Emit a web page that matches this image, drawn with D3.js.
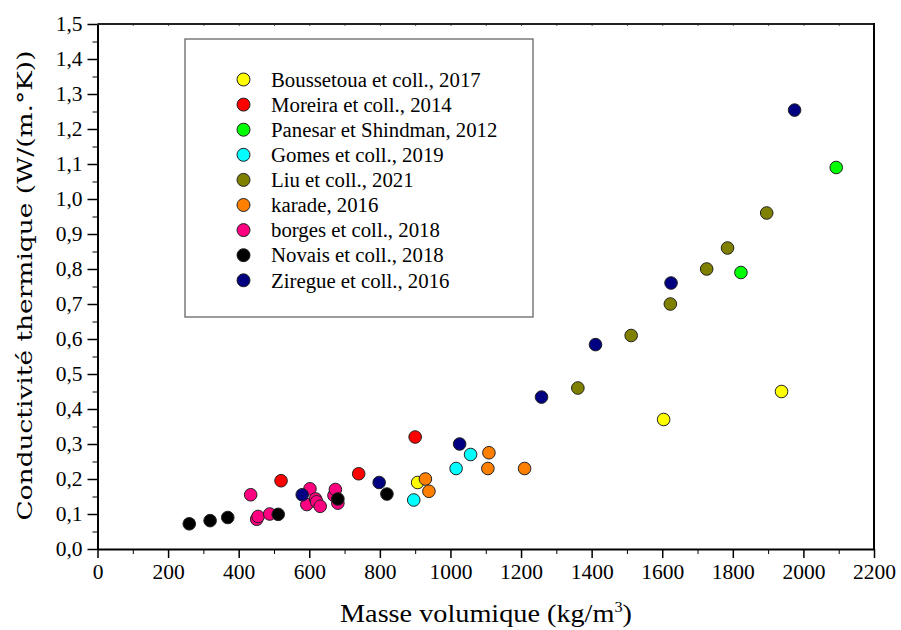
<!DOCTYPE html>
<html>
<head>
<meta charset="utf-8">
<script src="https://cdn.jsdelivr.net/npm/d3@7"></script>
<style>
  body { margin: 0; background: #fff; }
  svg { font-family: "Liberation Serif", serif; }
</style>
</head>
<body>
<div id="chart"></div>
<script>
// series names, colours and values
const seriesNames = ["Boussetoua et coll., 2017", "Moreira et coll., 2014", "Panesar et Shindman, 2012",
    "Gomes et coll., 2019", "Liu et coll., 2021", "karade, 2016", "borges et coll., 2018",
    "Novais et coll., 2018", "Ziregue et coll., 2016"];
const seriesColors = ["#ffff00", "#ff0000", "#00ff00", "#00ffff", "#808000", "#ff8000", "#ff0080", "#000000", "#000080"];

const boussetouaX = [907, 1604, 1938];
const boussetouaY = [0.19, 0.37, 0.45];
const moreiraX = [520, 740, 900];
const moreiraY = [0.195, 0.215, 0.32];
const panesarX = [1823, 2093];
const panesarY = [0.79, 1.09];
const gomesX = [896, 1016, 1057];
const gomesY = [0.14, 0.23, 0.27];
const liuX = [1361, 1512, 1623, 1726, 1785, 1896];
const liuY = [0.46, 0.61, 0.70, 0.80, 0.86, 0.96];
const karadeX = [929, 939, 1106, 1109, 1210];
const karadeY = [0.20, 0.165, 0.23, 0.275, 0.23];
const borgesX = [434, 451, 455, 488, 593, 602, 618, 621, 631, 670, 674, 681];
const borgesY = [0.155, 0.085, 0.093, 0.10, 0.127, 0.172, 0.143, 0.135, 0.122, 0.153, 0.17, 0.131];
const novaisX = [260, 319, 369, 512, 681, 820];
const novaisY = [0.072, 0.081, 0.09, 0.099, 0.143, 0.157];
const ziregueX = [580, 798, 1026, 1258, 1411, 1625, 1975];
const ziregueY = [0.155, 0.19, 0.30, 0.434, 0.584, 0.76, 1.254];

const allX = [boussetouaX, moreiraX, panesarX, gomesX, liuX, karadeX, borgesX, novaisX, ziregueX];
const allY = [boussetouaY, moreiraY, panesarY, gomesY, liuY, karadeY, borgesY, novaisY, ziregueY];

const xTicks = d3.range(0, 2201, 200);
const yTicks = d3.range(0, 16).map(d => d / 10);

const width = 901, height = 630;
const margin = {top: 24, right: 27, bottom: 81, left: 97.5};
const w = width - margin.left - margin.right;
const h = height - margin.top - margin.bottom;

const svg = d3.select("#chart").append("svg")
    .attr("width", width)
    .attr("height", height);

const g = svg.append("g")
    .attr("transform", `translate(${margin.left},${margin.top})`);

const x = d3.scaleLinear().domain([0, 2200]).range([0, w]);
const y = d3.scaleLinear().domain([0, 1.5]).range([h, 0]);

const fmt = d => d3.format(".1f")(d).replace(".", ",");

// minor ticks first
g.append("g")
    .attr("transform", `translate(0,${h})`)
    .call(d3.axisBottom(x).tickValues(d3.range(100, 2200, 200)).tickSize(5).tickFormat(""))
    .call(a => a.select(".domain").remove());
g.append("g")
    .call(d3.axisLeft(y).tickValues(d3.range(0.05, 1.5, 0.1)).tickSize(5).tickFormat(""))
    .call(a => a.select(".domain").remove());

// top border ticks
g.append("g")
    .call(d3.axisBottom(x).tickValues(d3.range(100, 2200, 100)).tickSize(2).tickFormat(""))
    .call(a => a.select(".domain").remove())
    .selectAll("line").attr("stroke", "#555");

// main axes
const xAxis = g.append("g")
    .attr("transform", `translate(0,${h})`)
    .call(d3.axisBottom(x).tickValues(xTicks).tickSize(9).tickSizeOuter(0).tickPadding(6).tickFormat(d3.format("d")));

const yAxis = g.append("g")
    .call(d3.axisLeft(y).tickValues(yTicks).tickSize(10).tickSizeOuter(0).tickPadding(5).tickFormat(fmt));

[xAxis, yAxis].forEach(a => {
    a.selectAll("text")
        .style("font-family", "'Liberation Serif', serif")
        .style("font-size", "21.5px")
        .attr("fill", "#000");
    a.select(".domain").attr("stroke-width", 2);
    a.selectAll(".tick line").attr("stroke-width", 1.5);
});

// top and right border
g.append("line").attr("x1", 0).attr("x2", w).attr("y1", 0).attr("y2", 0)
    .attr("stroke", "#222").attr("stroke-width", 2);
g.append("line").attr("x1", w).attr("x2", w).attr("y1", -1).attr("y2", h)
    .attr("stroke", "#000").attr("stroke-width", 2);

// axis titles
svg.append("text")
    .attr("x", 486)
    .attr("y", 622)
    .attr("text-anchor", "middle")
    .attr("textLength", 292)
    .attr("lengthAdjust", "spacingAndGlyphs")
    .style("font-size", "26px")
    .html('Masse volumique (kg/m<tspan dy="-10" font-size="15px">3</tspan><tspan dy="10">)</tspan>');

svg.append("text")
    .attr("transform", `translate(32,${margin.top + h / 2 - 1}) rotate(-90)`)
    .attr("text-anchor", "middle")
    .attr("textLength", 470)
    .attr("lengthAdjust", "spacingAndGlyphs")
    .style("font-family", "'DejaVu Serif', serif")
    .style("font-size", "21px")
    .text("Conductivité thermique (W/(m.°K))");

// points
seriesNames.forEach((name, i) => {
    const pts = allX[i].map((v, j) => ({x: v, y: allY[i][j]}));
    g.append("g").selectAll("circle")
        .data(pts)
        .enter()
        .append("circle")
        .attr("cx", d => x(d.x))
        .attr("cy", d => y(d.y))
        .attr("r", 6.3)
        .attr("fill", seriesColors[i])
        .attr("stroke", "#222")
        .attr("stroke-width", 1);
});

// legend
const legend = svg.append("g").attr("transform", "translate(185,39)");
legend.append("rect")
    .attr("width", 348).attr("height", 278)
    .attr("fill", "#fff")
    .attr("stroke", "#666").attr("stroke-width", 1.3);

const items = legend.selectAll(".item")
    .data(seriesNames)
    .enter()
    .append("g")
    .attr("class", "item")
    .attr("transform", (d, i) => `translate(0,${40.5 + i * 25.1})`);

items.append("circle")
    .attr("cx", 58.5).attr("r", 6.5)
    .attr("fill", (d, i) => seriesColors[i])
    .attr("stroke", "#222").attr("stroke-width", 1);

items.append("text")
    .attr("x", 86).attr("dy", "0.35em")
    .style("font-size", "20.8px")
    .text(d => d);
</script>
</body>
</html>
